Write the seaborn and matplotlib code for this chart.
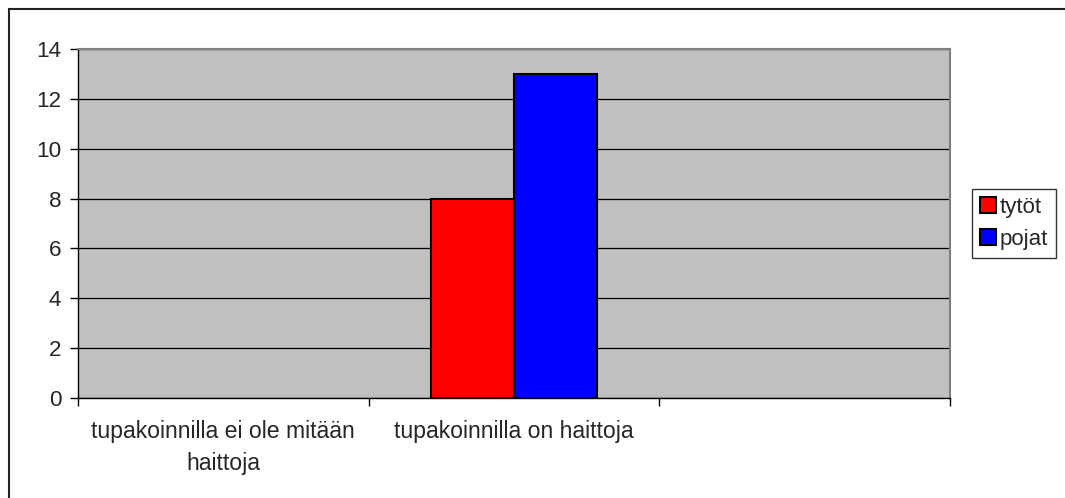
import matplotlib
matplotlib.use('Agg')
import matplotlib.pyplot as plt
import matplotlib.patches as mpatches
import pandas as pd
import seaborn as sns

categories = ['tupakoinnilla ei ole mitään\nhaittoja', 'tupakoinnilla on haittoja', '']
groups = ['tytöt', 'pojat']
tytot = [0, 8]
pojat = [0, 13]
colors = ['#ff0000', '#0000ff']

df = pd.DataFrame({
    'kategoria': categories[:2] * 2,
    'ryhma': ['tytöt'] * 2 + ['pojat'] * 2,
    'arvo': tytot + pojat,
})

sns.set_style('white')
plt.rcParams['font.family'] = ['Liberation Sans', 'DejaVu Sans']

W, H = 1065, 498
fig = plt.figure(figsize=(W / 100, H / 100), dpi=100)
ax = fig.add_axes([78 / W, 1 - 398 / H, (950 - 78) / W, (398 - 49) / H])
ax.set_facecolor('#c0c0c0')

sns.barplot(data=df, x='kategoria', y='arvo', hue='ryhma', order=categories,
            hue_order=groups, palette=colors, width=0.574, saturation=1,
            edgecolor='black', linewidth=1.5, ax=ax, zorder=3)

# zero-height bars are not drawn in the original
for p in ax.patches:
    if p.get_height() == 0:
        p.set_visible(False)

ax.set_xlim(-0.5, 2.5)
ax.set_ylim(0, 14)
ax.set_yticks(range(0, 15, 2))
ax.yaxis.grid(True, color='black', linewidth=0.9)
ax.set_axisbelow(True)
ax.set_xlabel('')
ax.set_ylabel('')

ax.set_xticks(range(3))
ax.set_xticklabels(categories, fontsize=16.6, linespacing=1.47)
ax.tick_params(axis='x', length=0, pad=16)
ax.set_xticks([-0.5, 0.5, 1.5, 2.5], minor=True)
ax.tick_params(axis='x', which='minor', length=6, width=1, color='black', direction='out', bottom=True)
ax.tick_params(axis='y', length=6, width=1, color='black', direction='out', left=True, labelsize=16.2, pad=6)

for side in ['left', 'bottom']:
    ax.spines[side].set_color('black')
    ax.spines[side].set_linewidth(1)
for side in ['top', 'right']:
    ax.spines[side].set_color('#808080')
    ax.spines[side].set_linewidth(1.5)

handles = [mpatches.Patch(facecolor=c, edgecolor='black', linewidth=1.5) for c in colors]
ax.legend(handles, groups, loc='center left', bbox_to_anchor=(1.025, 0.5),
          frameon=True, fancybox=False, edgecolor='black', fontsize=16,
          handlelength=0.72, handleheight=0.72, handletextpad=0.2,
          borderpad=0.35, labelspacing=0.5, borderaxespad=0)

fig.patches.append(mpatches.Rectangle((9 / W, -0.1), 1.2, 1 - 9 / H + 0.1,
                                      transform=fig.transFigure, fill=False,
                                      edgecolor='#222222', linewidth=1.5))

fig.savefig('out.png', dpi=100)
